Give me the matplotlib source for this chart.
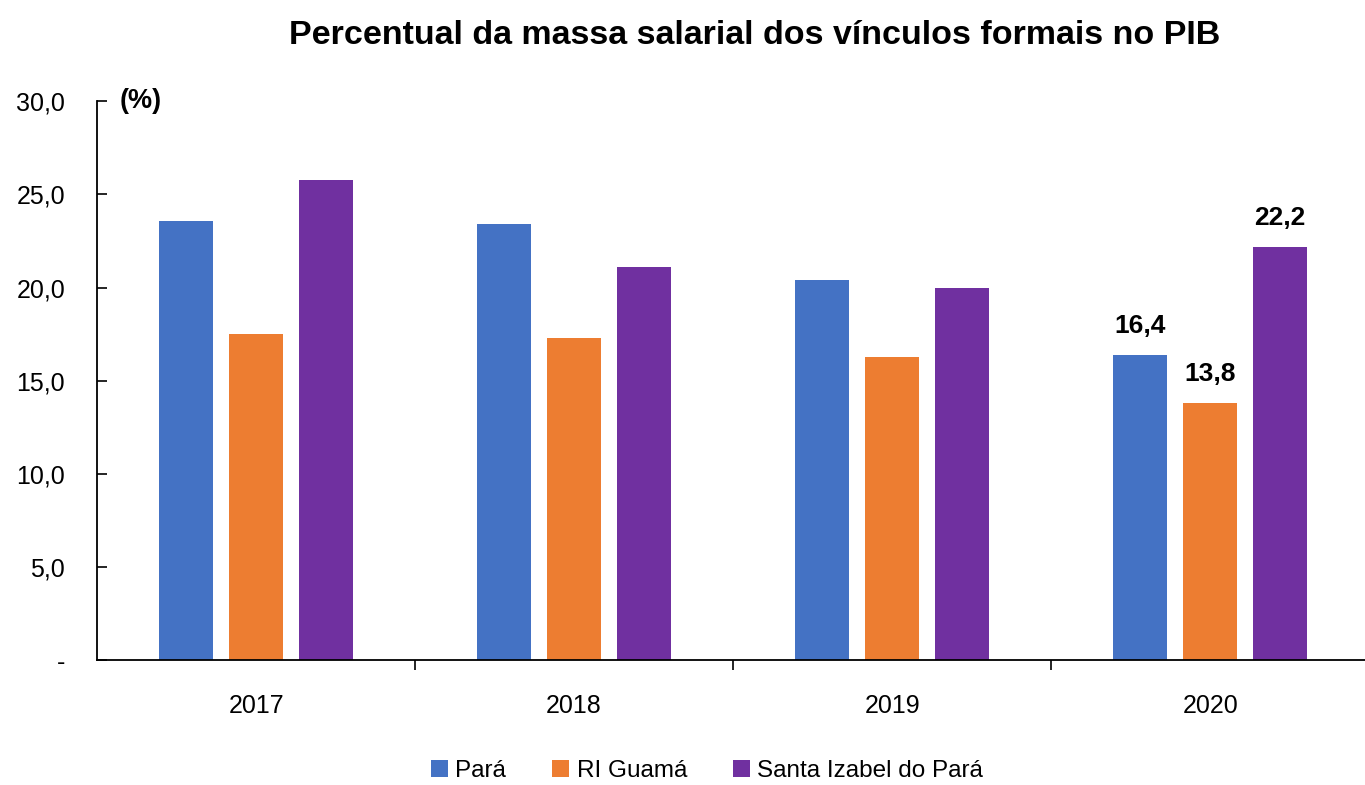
import matplotlib.pyplot as plt
import numpy as np
from matplotlib import font_manager

# fonte estreita tipo Arial Narrow, se houver
names = {f.name for f in font_manager.fontManager.ttflist}
fam = 'Liberation Sans Narrow' if 'Liberation Sans Narrow' in names else 'Liberation Sans'
plt.rcParams['font.family'] = [fam, 'DejaVu Sans']

anos = ['2017', '2018', '2019', '2020']
series = ['Pará', 'RI Guamá', 'Santa Izabel do Pará']
para = [23.6, 23.4, 20.4, 16.4]
ri_guama = [17.5, 17.3, 16.3, 13.8]
santa_izabel = [25.8, 21.1, 20.0, 22.2]
cores = ['#4472C4', '#ED7D31', '#7030A0']

fig = plt.figure(figsize=(13.65, 7.85), dpi=100)
ax = fig.add_axes([0.0711, 0.159, 0.932, 0.712])

x = np.arange(len(anos))
w = 0.17
passo = 0.22
valores = [para, ri_guama, santa_izabel]
for i, (nome, vals, cor) in enumerate(zip(series, valores, cores)):
    pos = x + (i - 1) * passo
    ax.bar(pos, vals, width=w, color=cor, label=nome)
    # rótulo apenas no último ano
    ax.text(pos[-1], vals[-1] + 0.9, f"{vals[-1]:.1f}".replace('.', ','),
            ha='center', va='bottom', fontsize=19, fontweight='bold')

ax.set_xlim(-0.5, len(anos) - 0.5)
ax.set_ylim(0, 30)
ax.set_yticks(np.arange(0, 31, 5))
ax.set_yticklabels(['-'] + [f"{v:.1f}".replace('.', ',') for v in np.arange(5, 31, 5)])
ax.tick_params(axis='y', direction='in', length=7, pad=23, labelsize=18, width=1.2)
ax.set_xticks(x)
ax.set_xticklabels(anos)
ax.tick_params(axis='x', length=0, pad=24, labelsize=18)
ax.set_xticks(np.arange(0.5, len(anos) - 0.5, 1), minor=True)
ax.tick_params(axis='x', which='minor', direction='out', length=7, width=1.2)

for s in ['top', 'right']:
    ax.spines[s].set_visible(False)
for s in ['left', 'bottom']:
    ax.spines[s].set_linewidth(1.3)

ax.text(0.018, 1.0, '(%)', transform=ax.transAxes, ha='left', va='center',
        fontsize=19.5, fontweight='bold')

fig.suptitle('Percentual da massa salarial dos vínculos formais no PIB',
             x=0.553, y=0.975, fontsize=24.5, fontweight='bold')

fig.legend(loc='center', bbox_to_anchor=(0.518, 0.018), ncol=3, frameon=False,
           fontsize=17.5, handlelength=0.7, handleheight=0.7, handletextpad=0.3,
           columnspacing=1.9)

fig.savefig('out.png', dpi=100)
